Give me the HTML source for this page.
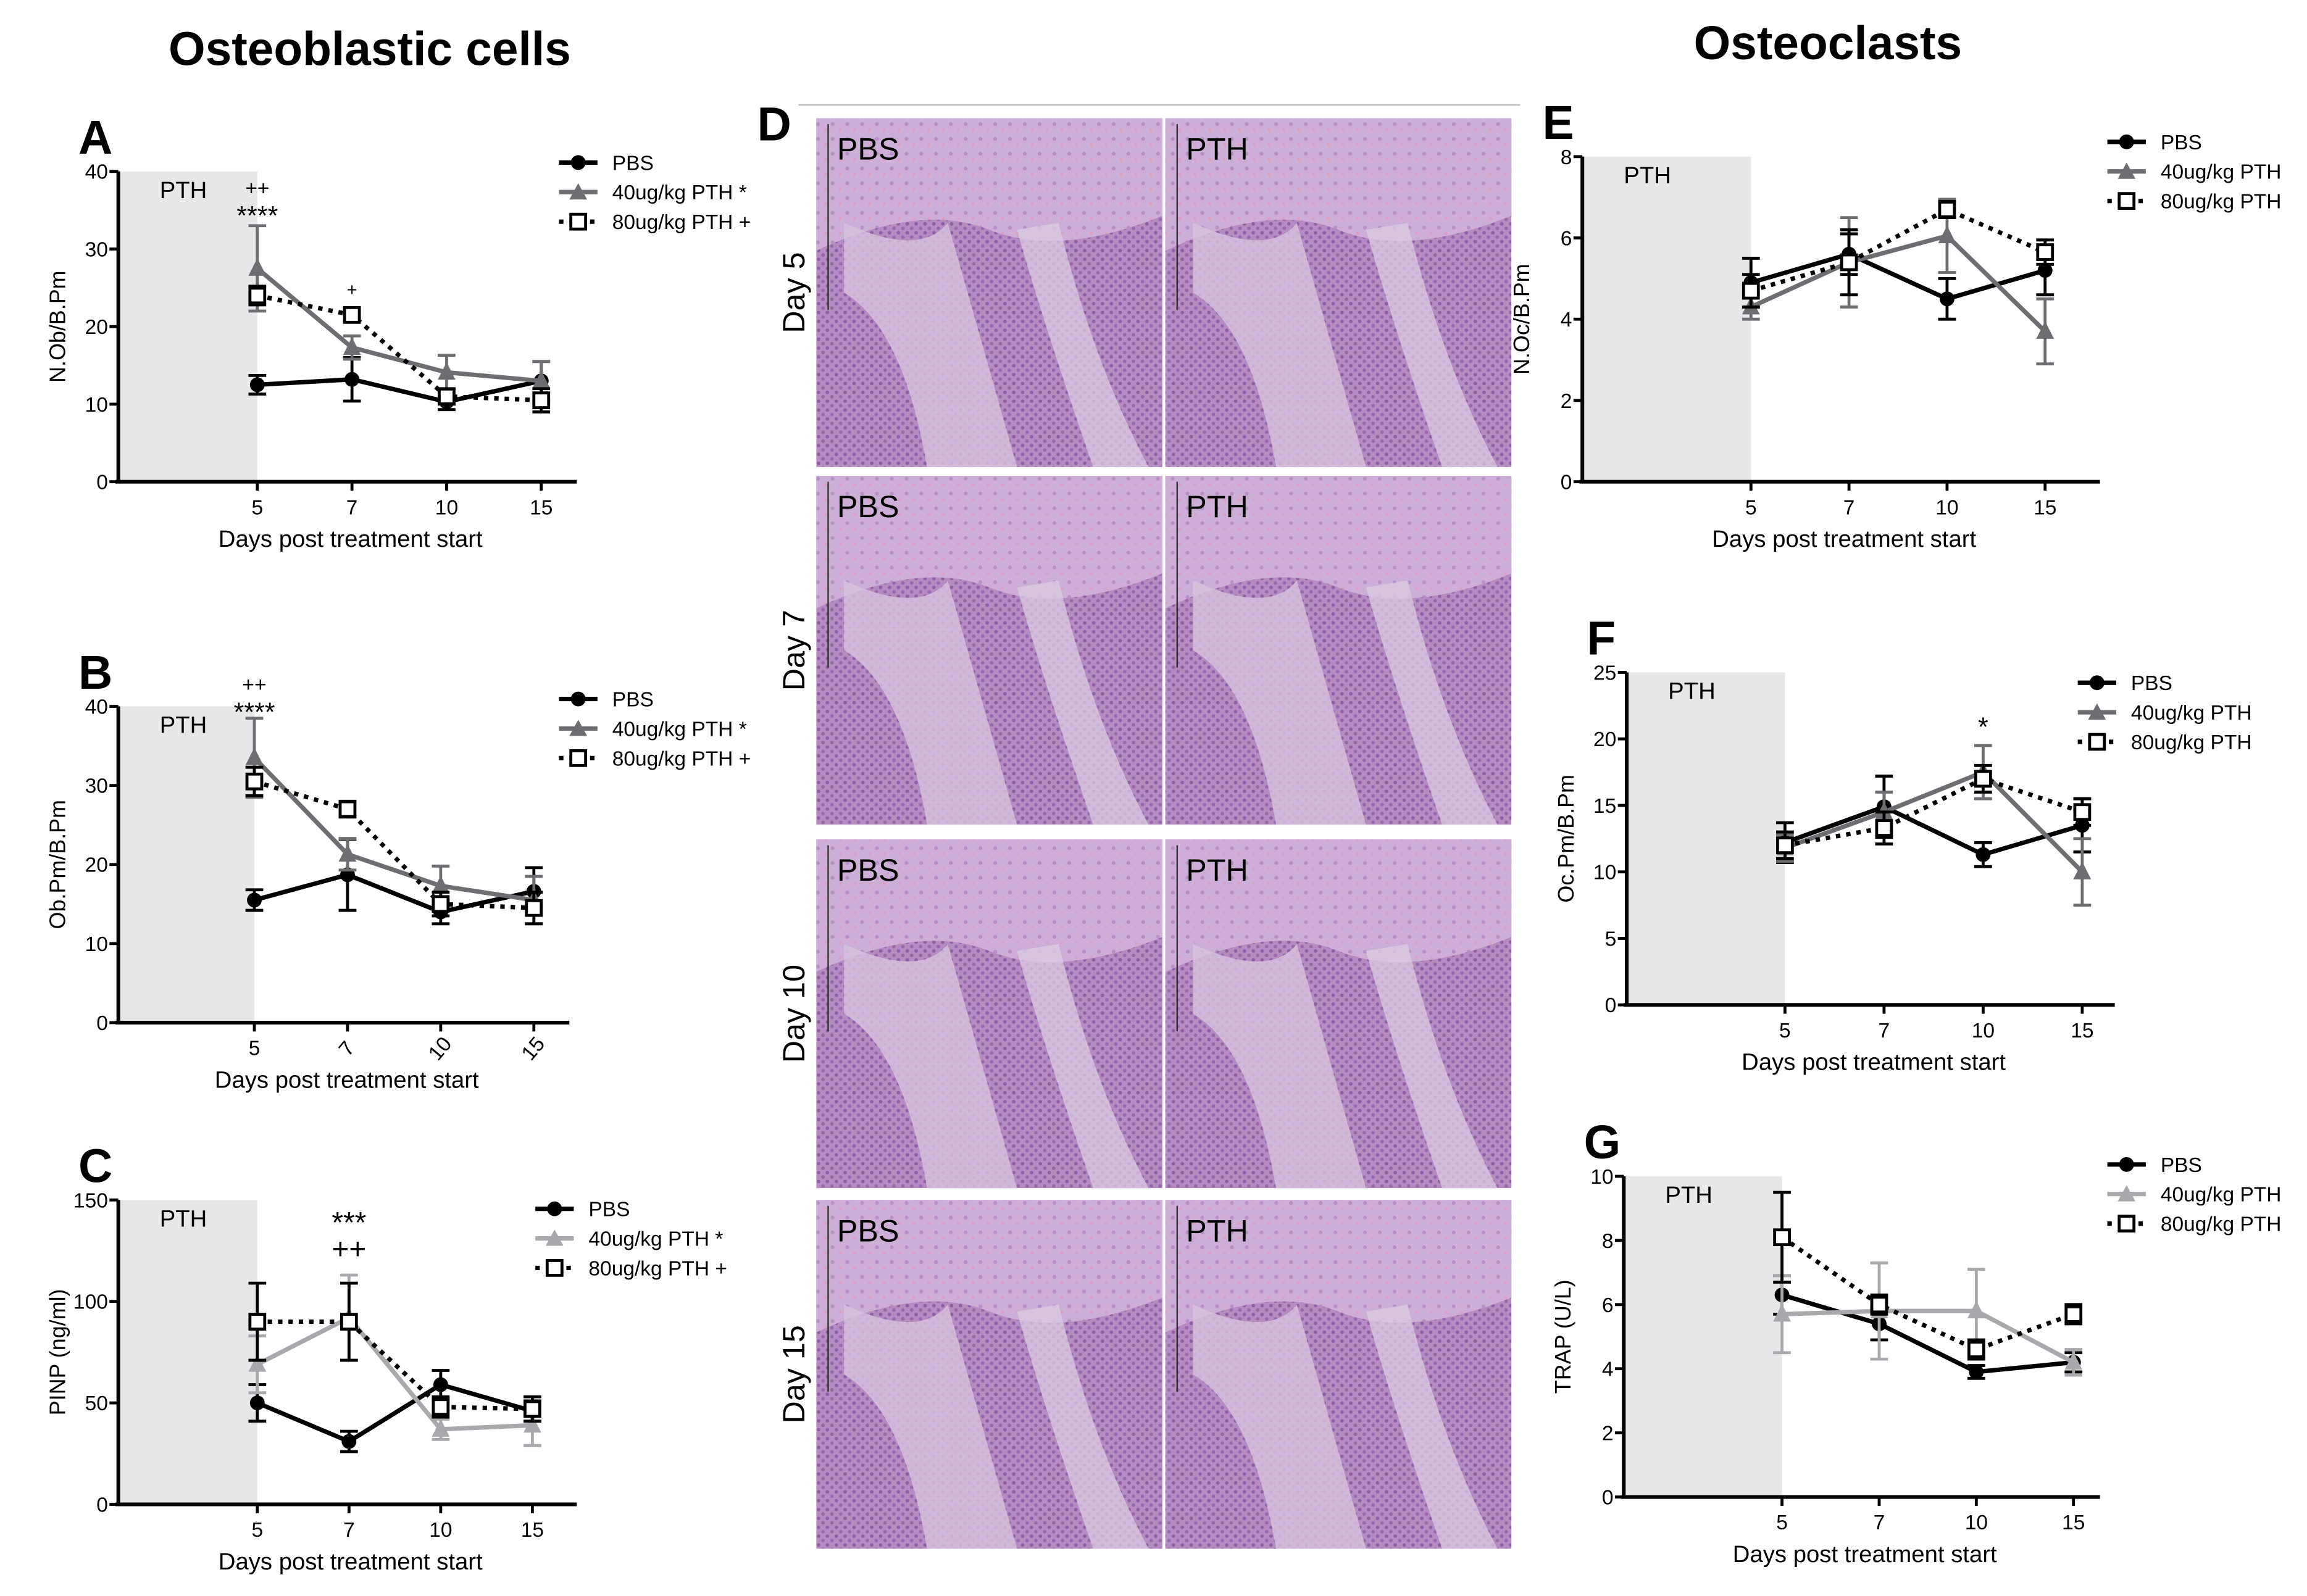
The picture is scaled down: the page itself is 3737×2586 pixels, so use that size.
<!DOCTYPE html>
<html><head><meta charset="utf-8"><style>
html,body{margin:0;padding:0;background:#fff}
svg{display:block}
text{font-family:"Liberation Sans",sans-serif}
</style></head><body>
<svg id="fig" width="3737" height="2586" viewBox="0 0 1560 1080" preserveAspectRatio="none" xmlns="http://www.w3.org/2000/svg">
<defs>
<pattern id="cells" width="6" height="6" patternUnits="userSpaceOnUse">
<rect width="6" height="6" fill="#b58cc2"/>
<circle cx="1.5" cy="1.5" r="1.2" fill="#8f5fa5"/>
<circle cx="4.5" cy="4.5" r="1.2" fill="#9868ac"/>
</pattern>
<pattern id="bone" width="10" height="10" patternUnits="userSpaceOnUse">
<rect width="10" height="10" fill="#cdaed6"/>
<circle cx="3" cy="4" r="1.3" fill="#b690c6"/>
<circle cx="8" cy="8" r="1" fill="#d9a0c0"/>
</pattern>
</defs>
<text x="250" y="44" font-size="32" font-weight="bold" text-anchor="middle">Osteoblastic cells</text>
<text x="1236" y="40" font-size="32" font-weight="bold" text-anchor="middle">Osteoclasts</text>
<g id="histo"></g>
<g id="charts"></g>
</svg>
<script>
// ---- data ----
const days = ["5","7","10","15"];
const seriesNames = ["PBS","40ug/kg PTH","80ug/kg PTH"];
const A_pbs=[12.5,13.2,10.3,13], A_40=[27.5,17.3,14.1,13], A_80=[24,21.5,11,10.5];
const A_pbsE=[1.2,2.8,1,2.5], A_40E=[5.5,1.5,2.2,2.5], A_80E=[1.2,0.8,1,1.5];
const B_pbs=[15.5,18.7,14,16.6], B_40=[33.5,21.3,17.3,15.5], B_80=[30.5,27,15,14.5];
const B_pbsE=[1.3,4.5,1.5,3], B_40E=[5,2,2.5,3], B_80E=[1.8,1,1.5,2];
const C_pbs=[50,31,59,46], C_40=[69,92,37,39], C_80=[90,90,48,47];
const C_pbsE=[9,5,7,5], C_40E=[14,21,5,10], C_80E=[19,19,5,6];
const E_pbs=[4.9,5.6,4.5,5.2], E_40=[4.3,5.4,6.05,3.7], E_80=[4.7,5.4,6.7,5.65];
const E_pbsE=[0.6,0.5,0.5,0.6], E_40E=[0.3,1.1,0.9,0.8], E_80E=[0.4,0.8,0.2,0.3];
const F_pbs=[12.2,14.9,11.3,13.5], F_40=[11.8,14.5,17.5,10], F_80=[12,13.3,17,14.5];
const F_pbsE=[1.5,2.3,0.9,2], F_40E=[1,1.5,2,2.5], F_80E=[1,1.2,1,1];
const G_pbs=[6.3,5.4,3.9,4.2], G_40=[5.7,5.8,5.8,4.2], G_80=[8.1,6,4.6,5.7];
const G_pbsE=[0.6,0.5,0.2,0.3], G_40E=[1.2,1.5,1.3,0.4], G_80E=[1.4,0.3,0.3,0.3];
const A_ticks=[0,10,20,30,40], B_ticks=[0,10,20,30,40], C_ticks=[0,50,100,150];
const E_ticks=[0,2,4,6,8], F_ticks=[0,5,10,15,20,25], G_ticks=[0,2,4,6,8,10];

const NS="http://www.w3.org/2000/svg";
function el(tag,attrs,parent,txt){const e=document.createElementNS(NS,tag);for(const k in attrs)e.setAttribute(k,attrs[k]);if(txt!==undefined)e.textContent=txt;parent.appendChild(e);return e;}

function chart(c){
  const g=el('g',{},document.getElementById('charts'));
  
  
  const y=v=>c.yb-(v/c.ymax)*(c.yb-c.yt);
  const x=i=>c.x5+i*c.dx;
  el('rect',{x:c.ax,y:c.yt,width:x(0)-c.ax,height:c.yb-c.yt,fill:'#e6e7e8'},g);
  el('text',{x:c.ax+28,y:c.yt+18,'font-size':16},g,'PTH');
  el('text',{x:c.ax-27,y:c.yt-12,'font-size':32,'font-weight':'bold'},g,c.id);
  el('line',{x1:c.ax,y1:c.yt,x2:c.ax,y2:c.yb,stroke:'#000','stroke-width':2.5},g);
  el('line',{x1:c.ax-2,y1:c.yb,x2:c.xr,y2:c.yb,stroke:'#000','stroke-width':2.5},g);
  c.ticks.forEach(t=>{el('line',{x1:c.ax-6,y1:y(t),x2:c.ax,y2:y(t),stroke:'#000','stroke-width':2},g);
    el('text',{x:c.ax-7,y:y(t)+5,'font-size':14,'text-anchor':'end'},g,String(t));});
  days.forEach((d,i)=>{el('line',{x1:x(i),y1:c.yb,x2:x(i),y2:c.yb+6,stroke:'#000','stroke-width':2},g);
    if(c.rot&&i>0){el('text',{x:x(i),y:c.yb+22,'font-size':14,'text-anchor':'middle',transform:`rotate(-50 ${x(i)} ${c.yb+18})`},g,d);}
    else el('text',{x:x(i),y:c.yb+22,'font-size':14,'text-anchor':'middle'},g,d);});
  el('text',{x:(c.ax+c.xr)/2+2,y:c.yb+44,'font-size':16,'text-anchor':'middle'},g,'Days post treatment start');
  const yl=(c.yt+c.yb)/2;
  el('text',{x:c.ax-36,y:yl,'font-size':15,'text-anchor':'middle',transform:`rotate(-90 ${c.ax-36} ${yl})`},g,c.ylab);
  const cols=['#000',c.gcol,'#000'];
  const sers=[[c.pbs,c.pbsE],[c.s40,c.s40E],[c.s80,c.s80E]];
  sers.forEach((s,si)=>{
    const col=cols[si];
    s[0].forEach((v,i)=>{const e=s[1][i];
      el('line',{x1:x(i),y1:y(v-e),x2:x(i),y2:y(v+e),stroke:col,'stroke-width':2},g);
      el('line',{x1:x(i)-6,y1:y(v-e),x2:x(i)+6,y2:y(v-e),stroke:col,'stroke-width':2},g);
      el('line',{x1:x(i)-6,y1:y(v+e),x2:x(i)+6,y2:y(v+e),stroke:col,'stroke-width':2},g);});
    const pts=s[0].map((v,i)=>x(i)+','+y(v)).join(' ');
    const pl=el('polyline',{points:pts,fill:'none',stroke:col,'stroke-width':3,'stroke-dasharray':si==2?'3,4':'none'},g);
    
    
    s[0].forEach((v,i)=>{
      let m;
      if(si==0)m=el('circle',{cx:x(i),cy:y(v),r:5,fill:'#000'},g);
      else if(si==1)m=el('polygon',{points:`${x(i)},${y(v)-7} ${x(i)-6},${y(v)+5} ${x(i)+6},${y(v)+5}`,fill:col},g);
      else m=el('rect',{x:x(i)-5,y:y(v)-5,width:10,height:10,fill:'#fff',stroke:'#000','stroke-width':2},g);
      
      });
  });
  seriesNames.forEach((n,si)=>{const ly=c.ly+si*20,lx=c.lx;
    el('line',{x1:lx,y1:ly,x2:lx+26,y2:ly,stroke:cols[si],'stroke-width':3,'stroke-dasharray':si==2?'3,4':'none'},g);
    if(si==0)el('circle',{cx:lx+13,cy:ly,r:5,fill:'#000'},g);
    else if(si==1)el('polygon',{points:`${lx+13},${ly-6} ${lx+7},${ly+5} ${lx+19},${ly+5}`,fill:cols[1]},g);
    else el('rect',{x:lx+8,y:ly-5,width:10,height:10,fill:'#fff',stroke:'#000','stroke-width':2},g);
    const t=el('text',{x:lx+36,y:ly+5,'font-size':14},g,n+(c.sig&&si>0?(si==1?' *':' +'):''));
    
    });
  (c.ann||[]).forEach(a=>el('text',{x:x(a[0]),y:a[1],'font-size':a[3]||16,'text-anchor':'middle'},g,a[2]));
}
chart({id:'A',ax:80,xr:390,yt:116,yb:326,ymax:40,x5:174,dx:64,ticks:A_ticks,ylab:'N.Ob/B.Pm',gcol:'#6d6e71',pbs:A_pbs,pbsE:A_pbsE,s40:A_40,s40E:A_40E,s80:A_80,s80E:A_80E,lx:378,ly:110,sig:true,ann:[[0,132,'++',14],[0,152,'****',18],[1,200,'+',12]]});
chart({id:'B',ax:80,xr:385,yt:478,yb:692,ymax:40,x5:172,dx:63,ticks:B_ticks,ylab:'Ob.Pm/B.Pm',gcol:'#6d6e71',pbs:B_pbs,pbsE:B_pbsE,s40:B_40,s40E:B_40E,s80:B_80,s80E:B_80E,lx:378,ly:473,sig:true,rot:true,ann:[[0,468,'++',14],[0,488,'****',18]]});
chart({id:'C',ax:80,xr:390,yt:812,yb:1018,ymax:150,x5:174,dx:62,ticks:C_ticks,ylab:'PINP  (ng/ml)',gcol:'#a7a9ac',pbs:C_pbs,pbsE:C_pbsE,s40:C_40,s40E:C_40E,s80:C_80,s80E:C_80E,lx:362,ly:818,sig:true,ann:[[1,834,'***',20],[1,852,'++',20]]});
chart({id:'E',ax:1070,xr:1420,yt:106,yb:326,ymax:8,x5:1184,dx:66.3,ticks:E_ticks,ylab:'N.Oc/B.Pm',gcol:'#6d6e71',pbs:E_pbs,pbsE:E_pbsE,s40:E_40,s40E:E_40E,s80:E_80,s80E:E_80E,lx:1425,ly:96});
chart({id:'F',ax:1100,xr:1430,yt:455,yb:680,ymax:25,x5:1207,dx:67,ticks:F_ticks,ylab:'Oc.Pm/B.Pm',gcol:'#6d6e71',pbs:F_pbs,pbsE:F_pbsE,s40:F_40,s40E:F_40E,s80:F_80,s80E:F_80E,lx:1405,ly:462,ann:[[2,498,'*',18]]});
chart({id:'G',ax:1098,xr:1420,yt:796,yb:1013,ymax:10,x5:1205,dx:65.7,ticks:G_ticks,ylab:'TRAP (U/L)',gcol:'#a7a9ac',pbs:G_pbs,pbsE:G_pbsE,s40:G_40,s40E:G_40E,s80:G_80,s80E:G_80E,lx:1425,ly:788});

// histology
const h=document.getElementById('histo');
el('line',{x1:540,y1:71,x2:1028,y2:71,stroke:'#bbb','stroke-width':1},h);
el('text',{x:512,y:95,'font-size':32,'font-weight':'bold'},h,'D');
const rows=[[80,316,'Day 5'],[322,558,'Day 7'],[568,804,'Day 10'],[812,1048,'Day 15']];
rows.forEach((r)=>{
  [[552,786,'PBS'],[788,1022,'PTH']].forEach((p)=>{
    const g=el('g',{},h);
    
    
    const w=p[1]-p[0],hh=r[1]-r[0],X=p[0],Y=r[0];
    el('rect',{x:X,y:Y,width:w,height:hh,fill:'url(#cells)'},g);
    el('path',{d:`M${X},${Y} H${X+w} V${Y+hh*0.28} Q${X+w*0.7},${Y+hh*0.4} ${X+w*0.5},${Y+hh*0.32} T${X},${Y+hh*0.38} Z`,fill:'url(#bone)'},g);
    el('path',{d:`M${X+w*0.08},${Y+hh*0.3} Q${X+w*0.3},${Y+hh*0.4} ${X+w*0.38},${Y+hh*0.3} L${X+w*0.58},${Y+hh} L${X+w*0.32},${Y+hh} Q${X+w*0.25},${Y+hh*0.6} ${X+w*0.08},${Y+hh*0.5} Z`,fill:'#d8c3df',opacity:0.8},g);
    el('path',{d:`M${X+w*0.58},${Y+hh*0.32} L${X+w*0.7},${Y+hh*0.3} Q${X+w*0.8},${Y+hh*0.7} ${X+w*0.96},${Y+hh} L${X+w*0.8},${Y+hh} Q${X+w*0.66},${Y+hh*0.6} ${X+w*0.58},${Y+hh*0.32} Z`,fill:'#dccbe3',opacity:0.75},g);
    el('line',{x1:X+8,y1:Y+4,x2:X+8,y2:Y+hh*0.55,stroke:'#333','stroke-width':1},g);
    el('text',{x:X+14,y:Y+28,'font-size':21},g,p[2]);
  });
  const cy=(r[0]+r[1])/2;
  el('text',{x:544,y:cy,'font-size':21,'text-anchor':'middle',transform:`rotate(-90 544 ${cy})`},h,r[2]);
});
</script>
</body></html>
